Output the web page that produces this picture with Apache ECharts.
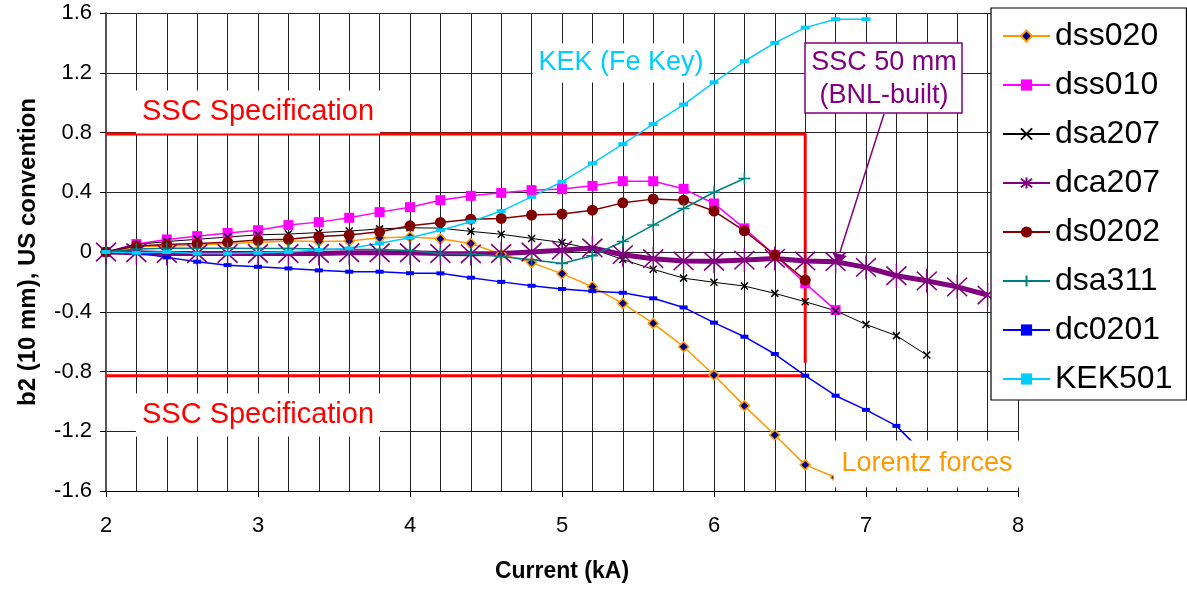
<!DOCTYPE html>
<html>
<head>
<meta charset="utf-8">
<script src="https://cdn.jsdelivr.net/npm/echarts@6/dist/echarts.min.js"></script>
<style>
html,body{margin:0;padding:0;background:#fff;}
#c{width:1187px;height:590px;}
</style>
</head>
<body>
<div id="c"></div>
<script>
// Current (kA) sampling grid
var current = [2.0,2.2,2.4,2.6,2.8,3.0,3.2,3.4,3.6,3.8,4.0,4.2,4.4,4.6,4.8,5.0,5.2,5.4,5.6,5.8,6.0,6.2,6.4,6.6,6.8,7.0,7.2,7.4,7.6,7.8];
var seriesNames = ['dss020','dss010','dsa207','dca207','ds0202','dsa311','dc0201','KEK501'];
var dss020 = [0,0.035,0.04,0.046,0.057,0.064,0.073,0.07,0.073,0.095,0.10,0.088,0.057,-0.015,-0.071,-0.145,-0.233,-0.344,-0.478,-0.634,-0.823,-1.03,-1.225,-1.425,-1.51];
var dss010 = [0,0.053,0.084,0.106,0.128,0.146,0.18,0.20,0.229,0.267,0.30,0.347,0.376,0.396,0.414,0.421,0.443,0.474,0.474,0.423,0.325,0.158,-0.02,-0.21,-0.389];
var dsa207 = [0,0.05,0.07,0.085,0.10,0.115,0.12,0.13,0.14,0.155,0.162,0.16,0.138,0.119,0.091,0.063,0.02,-0.05,-0.116,-0.175,-0.203,-0.228,-0.277,-0.333,-0.393,-0.485,-0.56,-0.69];
var dca207 = [0,-0.005,-0.01,-0.01,-0.01,-0.01,-0.01,-0.01,-0.005,-0.005,-0.005,-0.01,-0.012,-0.01,0,0.012,0.027,-0.018,-0.045,-0.06,-0.062,-0.054,-0.043,-0.06,-0.065,-0.103,-0.159,-0.193,-0.233,-0.288];
var ds0202 = [0,0.04,0.05,0.057,0.066,0.08,0.086,0.104,0.113,0.135,0.175,0.198,0.22,0.225,0.247,0.254,0.28,0.329,0.354,0.347,0.274,0.142,-0.02,-0.188];
var dsa311 = [0,0.02,0.025,0.025,0.025,0.024,0.024,0.02,0.018,0.017,0.01,-0.01,-0.014,-0.03,-0.052,-0.077,-0.025,0.07,0.18,0.291,0.4,0.492];
var dc0201 = [0,-0.005,-0.036,-0.065,-0.088,-0.099,-0.11,-0.123,-0.132,-0.132,-0.142,-0.143,-0.172,-0.2,-0.226,-0.248,-0.262,-0.273,-0.31,-0.371,-0.473,-0.567,-0.683,-0.828,-0.962,-1.057,-1.164,-1.37];
var KEK501 = [0,-0.005,0,-0.01,-0.01,-0.005,0,0.013,0.024,0.058,0.095,0.146,0.202,0.274,0.369,0.47,0.593,0.722,0.856,0.987,1.136,1.277,1.40,1.502,1.558,1.558];
// SSC specification envelope (kA, b2)
var specUpperX = [2.0,6.6,6.6];
var specUpperY = [0.79,0.79,-0.741];
var specLowerX = [2.0,6.6];
var specLowerY = [-0.828,-0.828];
var yTicks = ['-1.6','-1.2','-0.8','-0.4','0','0.4','0.8','1.2','1.6'];

function pairs(xs, ys){ return ys.map(function(v,i){ return [xs[i], v]; }); }

var FONT = 'Liberation Sans, Arial, Helvetica, sans-serif';
var chart = echarts.init(document.getElementById('c'), null, {renderer:'canvas'});

var styles = {
  dss020:{color:'#FF9900', width:1.5, symbol:'diamond', size:10, fill:'#000080', border:'#FF9900', bw:1.5},
  dss010:{color:'#FF00FF', width:1.5, symbol:'rect', size:10, fill:'#FF00FF', border:'#FF00FF', bw:0},
  dsa207:{color:'#000000', width:1, symbol:'path://M0,0L10,10M10,0L0,10', size:7, fill:'#000000', border:'#000000', bw:1.5},
  dca207:{color:'#800080', width:5, symbol:'path://M0,0L10,10M10,0L0,10M5,-1.5L5,11.5', size:[20,24], fill:'#800080', border:'#800080', bw:1.5},
  ds0202:{color:'#800000', width:1.5, symbol:'circle', size:11, fill:'#800000', border:'#800000', bw:0},
  dsa311:{color:'#008080', width:1.5, symbol:'path://M5,0L5,10M0,5L10,5', size:12, fill:'#008080', border:'#008080', bw:1.5},
  dc0201:{color:'#0000FF', width:1.5, symbol:'rect', size:[8,4], fill:'#0000FF', border:'#0000FF', bw:0},
  KEK501:{color:'#00CCFF', width:1.5, symbol:'rect', size:[9,4], fill:'#00CCFF', border:'#00CCFF', bw:0}
};
var values = {dss020:dss020, dss010:dss010, dsa207:dsa207, dca207:dca207, ds0202:ds0202, dsa311:dsa311, dc0201:dc0201, KEK501:KEK501};

var series = [
  {name:'specU', type:'line', data:pairs(specUpperX, specUpperY), symbol:'none', silent:true,
   lineStyle:{color:'#FF0000', width:3}, z:1},
  {name:'specL', type:'line', data:pairs(specLowerX, specLowerY), symbol:'none', silent:true,
   lineStyle:{color:'#FF0000', width:3}, z:1}
];
seriesNames.forEach(function(n){
  var s = styles[n];
  series.push({
    name:n, type:'line', data:pairs(current, values[n]),
    symbol:s.symbol, symbolSize:s.size, showAllSymbol:true, animation:false,
    color:s.color,
    lineStyle:{color:s.color, width:s.width},
    itemStyle:{color:s.fill, borderColor:s.border, borderWidth:s.bw},
    z:2
  });
});

function label(text, x, y, color, size, pad){
  return {type:'text', x:x, y:y, z:50,
    style:{text:text, fill:color, font:size+'px '+FONT, align:'center', verticalAlign:'middle',
      backgroundColor:'#fff', padding:pad}};
}

chart.setOption({
  animation:false,
  backgroundColor:'#fff',
  grid:{left:106, top:13, right:169, bottom:99, show:false},
  xAxis:{type:'value', min:2, max:8, interval:1,
    name:'Current (kA)', nameLocation:'middle', nameGap:69,
    nameTextStyle:{fontFamily:FONT, fontWeight:'bold', fontSize:23, color:'#000'},
    axisLine:{onZero:false, lineStyle:{color:'#000', width:1}},
    axisTick:{show:true, length:6, lineStyle:{color:'#000'}},
    axisLabel:{fontFamily:FONT, fontSize:22, color:'#000', margin:24},
    splitLine:{show:true, lineStyle:{color:'#222', width:1}},
    minorTick:{show:false, splitNumber:5},
    minorSplitLine:{show:true, lineStyle:{color:'#222', width:1}}
  },
  yAxis:{type:'value', min:-1.6, max:1.6, interval:0.4,
    name:'b2 (10 mm), US convention', nameLocation:'middle', nameGap:66,
    nameTextStyle:{fontFamily:FONT, fontWeight:'bold', fontSize:24, color:'#000'},
    axisLine:{show:true, lineStyle:{color:'#555', width:2}},
    axisTick:{show:true, length:6, lineStyle:{color:'#000'}},
    axisLabel:{fontFamily:FONT, fontSize:22, color:'#000', margin:14,
      formatter:function(v){ var i = Math.round((v+1.6)/0.4); return yTicks[i]; }},
    splitLine:{show:true, lineStyle:{color:'#222', width:1}}
  },
  legend:{data:seriesNames, orient:'vertical', left:991, top:8,
    padding:[12,14,5,11], itemWidth:47, itemHeight:14, itemGap:17,
    backgroundColor:'#fff', borderColor:'#000', borderWidth:1.2,
    textStyle:{fontFamily:FONT, fontSize:32, color:'#000', lineHeight:32},
    selectedMode:false, z:60},
  series:series,
  graphic:[
    label('SSC Specification', 258, 112, '#FF0000', 29, [7,6,7,6]),
    label('SSC Specification', 258, 415, '#FF0000', 29, [7,6,7,6]),
    label('KEK (Fe Key)', 621, 63, '#00CCFF', 27, [6,6,6,6]),
    label('Lorentz forces', 927, 464, '#FF9900', 27, [10,8,10,8]),
    {type:'rect', z:50, shape:{x:805, y:43, width:157, height:70},
      style:{fill:'#fff', stroke:'#800080', lineWidth:1.5}},
    {type:'text', z:51, x:884, y:63, style:{text:'SSC 50 mm', fill:'#800080', font:'27px '+FONT, align:'center', verticalAlign:'middle'}},
    {type:'text', z:51, x:884, y:96, style:{text:'(BNL-built)', fill:'#800080', font:'27px '+FONT, align:'center', verticalAlign:'middle'}},
    {type:'line', z:52, shape:{x1:884, y1:114, x2:840, y2:252}, style:{stroke:'#800080', lineWidth:1.5}},
    {type:'polygon', z:52, shape:{points:[[832,252],[847,256],[838,264]]}, style:{fill:'#800080'}}
  ]
});
</script>
</body>
</html>
